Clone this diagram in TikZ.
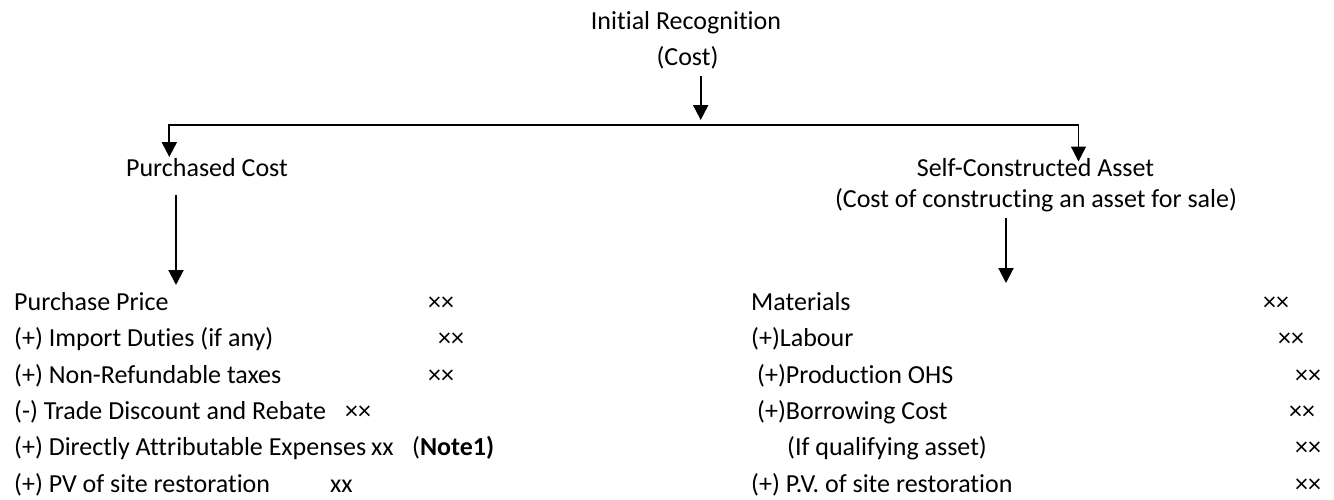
\documentclass[tikz,border=0pt]{standalone}
\usepackage{fontspec}
\setmainfont[RawFeature=-liga]{Carlito}
\usetikzlibrary{arrows.meta}
\tikzset{Head/.tip={Triangle[width=15pt,length=15pt]}}
\begin{document}
\begin{tikzpicture}[x=1pt,y=-1pt,
  lbl/.style={inner sep=0pt, font=\fontsize{26}{31}\selectfont},
  row/.style={lbl, anchor=base west},
  head/.style={lbl, anchor=base},
  link/.style={line width=2pt, -{Head}},
  thin link/.style={line width=1.3pt, -{Head}},
]
\useasboundingbox (0,0) rectangle (1334,499);

% headings
\node[head] (init) at (686,29) {Initial Recognition};
\node[head] (cost) at (687.5,65) {(Cost)};
\node[head] (pc) at (207,176) {Purchased Cost};
\node[head] (sca) at (1035.5,176) {Self-Constructed Asset};
\node[head] (scb) at (1036,207) {(Cost of constructing an asset for sale)};

% connector end points
\coordinate (trunkTop) at (700.7,76);
\coordinate (trunkTip) at (700.7,120);
\coordinate (barL) at (169.3,124.5);
\coordinate (barR) at (1078.5,124.5);
\coordinate (pcTip) at (169.3,157);
\coordinate (scTip) at (1078.5,161.5);
\coordinate (pcTop) at (176,195);
\coordinate (pcEnd) at (176,285);
\coordinate (scTop) at (1006,218);
\coordinate (scEnd) at (1006,283);

\draw[link] (trunkTop) -- (trunkTip);
\draw[link] (barR) -- (barL) -- (pcTip);
\draw[thin link] (barR) -- (scTip);
\draw[link] (pcTop) -- (pcEnd);
\draw[link] (scTop) -- (scEnd);

% purchased cost breakdown
\node[row] (l1) at (14,310) {Purchase Price};
\node[row] (l2) at (14,346.5) {(+) Import Duties (if any)};
\node[row] (l3) at (14,383) {(+) Non-Refundable taxes};
\node[row] (l4) at (14,419) {(-) Trade Discount and Rebate};
\node[row] (l5) at (14,455) {(+) Directly Attributable Expenses};
\node[row] (l6) at (14,492) {(+) PV of site restoration};

\node[row] (a1) at (428,310) {××};
\node[row] (a2) at (438,346.5) {××};
\node[row] (a3) at (428,383) {××};
\node[row] (a4) at (345,419) {××};
\node[row] (a5) at (371,455) {xx};
\node[row] (n5) at (412,455) {(\textbf{Note1)}};
\node[row] (a6) at (330,492) {xx};

% self-constructed asset breakdown
\node[row] (r1) at (751,310) {Materials};
\node[row] (r2) at (751,346.5) {(+)Labour};
\node[row] (r3) at (757,383) {(+)Production OHS};
\node[row] (r4) at (757,419) {(+)Borrowing Cost};
\node[row] (r5) at (787,455) {(If qualifying asset)};
\node[row] (r6) at (751,492) {(+) P.V. of site restoration};

\node[row] (b1) at (1263,310) {××};
\node[row] (b2) at (1278,346.5) {××};
\node[row] (b3) at (1295,383) {××};
\node[row] (b4) at (1289,419) {××};
\node[row] (b5) at (1295,455) {××};
\node[row] (b6) at (1295,492) {××};
\end{tikzpicture}
\end{document}
